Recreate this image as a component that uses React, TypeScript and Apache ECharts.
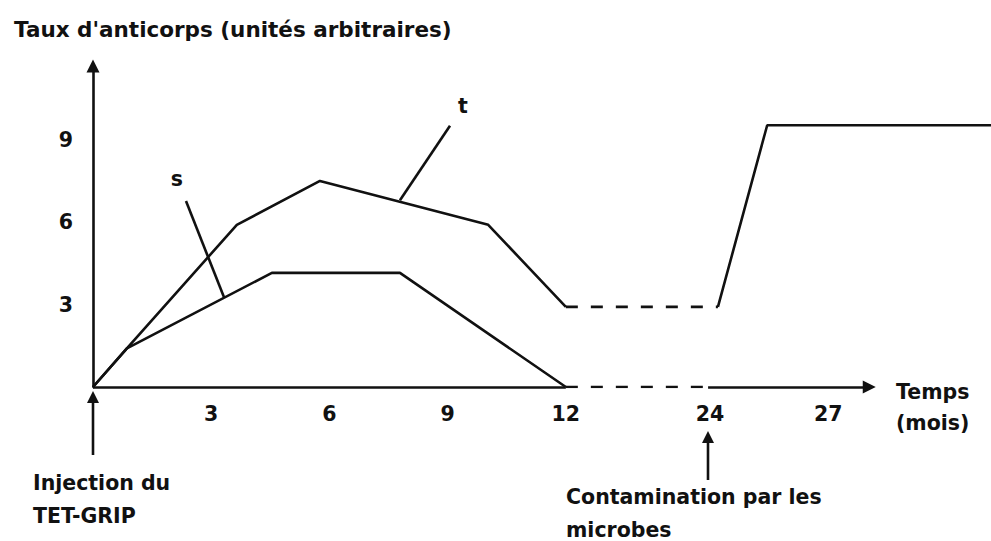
import React, { useEffect, useRef } from "react";
import * as echarts from "echarts";

// ---- Data (months, antibody level in arbitrary units) ----
const titleText = "Taux d'anticorps (unités arbitraires)";
const xAxisName = "Temps\n(mois)";
const xTickMonths = [3, 6, 9, 12, 24, 27];
const yTickValues = [3, 6, 9];

// curve t (upper)
const tBefore: [number, number][] = [
  [0, 0], [0.86, 1.41], [3.65, 5.91], [5.76, 7.51], [10.03, 5.91], [12, 2.92],
];
const tGap: [number, number][] = [[12, 2.92], [24.2, 2.92]];
const tAfter: [number, number][] = [[24.2, 2.92], [25.45, 9.54], [31.15, 9.54]];

// curve s (lower)
const sBefore: [number, number][] = [
  [0, 0], [0.86, 1.41], [4.54, 4.16], [7.79, 4.16], [12, 0],
];
const sGap: [number, number][] = [[12, 0], [24, 0]];

// pointer lines; each letter sits just above the free end of its pointer
const sPointer: [number, number][] = [[2.36, 6.78], [3.33, 3.25]];
const tPointer: [number, number][] = [[9.06, 9.52], [7.79, 6.81]];
const curveLetters: { name: string; value: [number, number] }[] = [
  { name: "s", value: [2.13, 7.2] },
  { name: "t", value: [9.39, 9.85] },
];

// ---- axis break: 12 -> 24 months is drawn compressed ----
const BREAK_START = 12;
const BREAK_END = 24;
const BREAK_WIDTH = 3.66; // visual width given to the 12-24 interval (in months)
const X_MAX = 22.79;
const X_ARROW_END = 19.7;
const Y_MAX = 11.7;

function toAxis(m: number): number {
  if (m <= BREAK_START) return m;
  if (m >= BREAK_END) return BREAK_START + BREAK_WIDTH + (m - BREAK_END);
  return BREAK_START + ((m - BREAK_START) * BREAK_WIDTH) / (BREAK_END - BREAK_START);
}
const conv = (pts: [number, number][]) => pts.map((p) => [toAxis(p[0]), p[1]]);

const FONT = "'DejaVu Sans', Verdana, sans-serif";
const FS = 20.5;
const INK = "#111111";

export default function App() {
  const ref = useRef<HTMLDivElement>(null);

  useEffect(() => {
    if (!ref.current) return;
    const chart = echarts.init(ref.current, null, { renderer: "svg" });

    const solid = { color: INK, width: 2.6, type: "solid" as const };
    const dashed = { color: INK, width: 2.6, type: [12, 13] as any };
    const lineBase = {
      type: "line" as const,
      symbol: "none",
      silent: true,
      animation: false,
    };
    const textStyle = { fontFamily: FONT, fontWeight: "bold" as const, fontSize: FS, color: INK };

    const option: any = {
      animation: false,
      backgroundColor: "#fff",
      color: [INK],
      title: {
        text: titleText,
        left: 9,
        top: 13,
        textStyle: { ...textStyle, fontSize: 21.5 },
      },
      grid: { left: 93, right: 0, top: 66, bottom: 541 - 387 },
      xAxis: {
        type: "value",
        min: 0,
        max: X_MAX,
        axisLine: { show: false },
        axisTick: { show: false },
        splitLine: { show: false },
        axisLabel: {
          customValues: xTickMonths.map(toAxis),
          formatter: (v: number) => {
            let best = xTickMonths[0];
            for (const m of xTickMonths) if (Math.abs(toAxis(m) - v) < Math.abs(toAxis(best) - v)) best = m;
            return String(best);
          },
          margin: 16,
          ...textStyle,
        },
      },
      yAxis: {
        type: "value",
        min: 0,
        max: Y_MAX,
        axisLine: {
          show: true,
          symbol: ["none", "triangle"],
          symbolSize: [13, 13],
          lineStyle: { color: INK, width: 2.6 },
        },
        axisTick: { show: false },
        splitLine: { show: false },
        axisLabel: {
          customValues: yTickValues,
          margin: 20,
          ...textStyle,
        },
      },
      series: [
        { ...lineBase, name: "t", data: conv(tBefore), lineStyle: solid },
        { ...lineBase, name: "t (12-24)", data: conv(tGap), lineStyle: dashed },
        { ...lineBase, name: "t (après contamination)", data: conv(tAfter), lineStyle: solid },
        {
          ...lineBase,
          name: "s",
          data: conv(sBefore),
          lineStyle: solid,
          markLine: {
            silent: true,
            animation: false,
            label: { show: false },
            lineStyle: { color: INK, width: 2.6, type: "solid" },
            emphasis: { disabled: true },
            data: [
              [
                { coord: [0, 0], symbol: "none" },
                { coord: [toAxis(BREAK_START), 0], symbol: "none" },
              ],
              [
                { coord: [toAxis(BREAK_END) - 0.05, 0], symbol: "none" },
                { coord: [X_ARROW_END, 0], symbol: "triangle", symbolSize: [13, 13] },
              ],
            ],
          },
        },
        { ...lineBase, name: "s (12-24)", data: conv(sGap), lineStyle: dashed },
        { ...lineBase, name: "repère s", data: conv(sPointer), lineStyle: solid },
        { ...lineBase, name: "repère t", data: conv(tPointer), lineStyle: solid },
        {
          type: "scatter",
          name: "lettres",
          silent: true,
          symbol: "circle",
          symbolSize: 0.1,
          itemStyle: { color: "#ffffff", opacity: 1 },
          data: curveLetters.map((d) => ({ name: d.name, value: [toAxis(d.value[0]), d.value[1]] })),
          label: {
            show: true,
            position: "top",
            distance: 0,
            formatter: (p: any) => p.name,
            ...textStyle,
            opacity: 1,
          },
        },
      ],
      graphic: [
        // x-axis name
        {
          type: "text",
          x: 896,
          y: 376,
          style: {
            text: xAxisName,
            font: `bold ${FS}px ${FONT}`,
            fill: INK,
            lineHeight: 31,
            textVerticalAlign: "top",
          },
        },
        // arrow: injection
        { type: "line", shape: { x1: 93, y1: 455, x2: 93, y2: 400 }, style: { stroke: INK, lineWidth: 2.6 } },
        { type: "polygon", shape: { points: [[93, 391], [87, 403], [99, 403]] }, style: { fill: INK } },
        {
          type: "text",
          x: 33,
          y: 466,
          style: {
            text: "Injection du\nTET-GRIP",
            font: `bold ${FS}px ${FONT}`,
            fill: INK,
            lineHeight: 33,
            textVerticalAlign: "top",
          },
        },
        // arrow: contamination
        { type: "line", shape: { x1: 708, y1: 480, x2: 708, y2: 441 }, style: { stroke: INK, lineWidth: 2.6 } },
        { type: "polygon", shape: { points: [[708, 431], [702, 443], [714, 443]] }, style: { fill: INK } },
        {
          type: "text",
          x: 566,
          y: 480,
          style: {
            text: "Contamination par les\nmicrobes",
            font: `bold ${FS}px ${FONT}`,
            fill: INK,
            lineHeight: 33,
            textVerticalAlign: "top",
          },
        },
      ],
    };

    chart.setOption(option);
    return () => chart.dispose();
  }, []);

  return (
    <div
      ref={ref}
      style={{ position: "absolute", left: 0, top: 0, width: 991, height: 541, background: "#fff" }}
    />
  );
}
